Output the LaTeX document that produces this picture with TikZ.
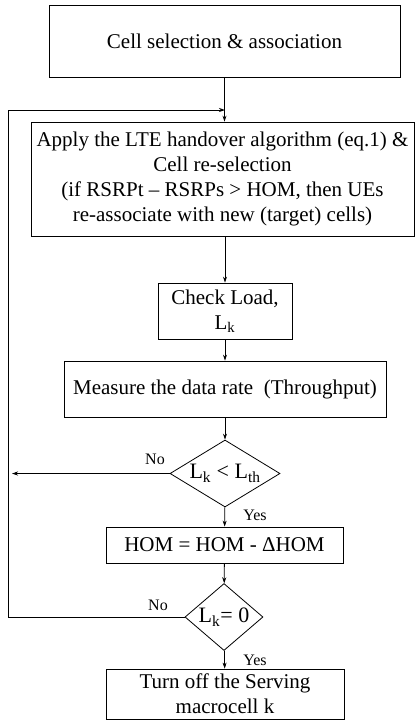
\documentclass[tikz,border=0pt]{standalone}
\usepackage{fontspec}
\setmainfont{Liberation Serif}
\usetikzlibrary{shapes.geometric,arrows.meta}
\begin{document}
\begin{tikzpicture}[x=1pt,y=-1pt,
  line width=0.8pt,
  box/.style={draw, rectangle, inner sep=0pt, align=center,
    font=\fontsize{21}{25}\selectfont},
  decision/.style={draw, diamond, inner sep=0pt},
  tag/.style={font=\fontsize{16}{18}\selectfont, inner sep=0pt},
  arr/.style={-{Stealth[length=6pt,width=4pt]}}]
\useasboundingbox (0,0) rectangle (415,721);

% process boxes (centre, size)
\node[box, minimum width=351, minimum height=72] (sel) at (224.5,41) {Cell selection \& association};
\node[box, minimum width=383, minimum height=114] (ho) at (222.5,179)
  {Apply the LTE handover algorithm (eq.1) \&\\Cell re-selection\\(if RSRPt – RSRPs > HOM, then UEs\\re-associate with new (target) cells)};
\node[box, minimum width=134, minimum height=56] (load) at (225,311) {Check Load,\\L\textsubscript{k}};
\node[box, minimum width=322, minimum height=56] (rate) at (225,389) {Measure the data rate\ \ (Throughput)};
\node[decision, minimum width=110, minimum height=67,
  label={[font=\fontsize{22}{24}\selectfont]center:L\textsubscript{k} < L\textsubscript{th}}] (d1) at (225,473.5) {};
\node[box, minimum width=237, minimum height=36] (hom) at (224.5,545) {HOM = HOM - ΔHOM};
\node[decision, minimum width=78, minimum height=67,
  label={[font=\fontsize{22}{24}\selectfont]center:L\textsubscript{k}= 0}] (d2) at (224,617) {};
\node[box, minimum width=238, minimum height=50] (off) at (225,694) {Turn off the Serving\\macrocell k};

% loop return points
\coordinate (join) at (225,110);
\coordinate (loopTop) at (8,110);
\coordinate (loopBot) at (8,617);
\coordinate (noEnd) at (12,473.5);

% main flow
\draw[arr] (sel.south) -- (sel.south |- ho.north);
\draw[arr] (ho.south -| load.north) -- (load.north);
\draw[arr] (load) -- (rate);
\draw[arr] (rate) -- (d1);
\draw[arr] (d1) -- (hom);
\draw[arr] (hom) -- (d2);
\draw[arr] (d2) -- (off);

% feedback loops
\draw[arr] (d1.west) -- (noEnd);
\draw[arr] (d2.west) -- (loopBot) -- (loopTop) -- (join);

% branch labels
\node[tag] (no1) at (155,459) {No};
\node[tag] (yes1) at (255,515) {Yes};
\node[tag] (no2) at (158,605) {No};
\node[tag] (yes2) at (255,660) {Yes};
\end{tikzpicture}
\end{document}
